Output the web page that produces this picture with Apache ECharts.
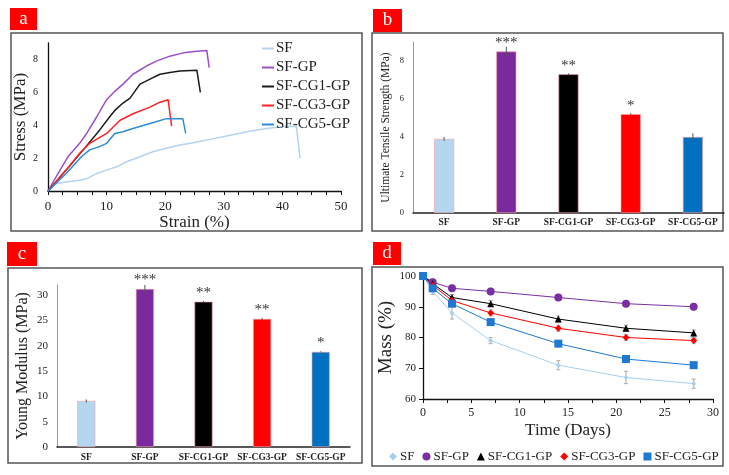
<!DOCTYPE html>
<html>
<head>
<meta charset="utf-8" />
<title>Figure</title>
<script src="https://cdn.jsdelivr.net/npm/echarts@6/dist/echarts.min.js"></script>
<style>
  html, body { margin: 0; padding: 0; background: #fff; }
  #main { width: 729px; height: 475px; }
</style>
</head>
<body>
<div id="main"></div>
<script>
// panel a: stress-strain curves, [strain %, stress MPa]
var curveSF = [[0,0],[1.4,0.45],[3.1,0.55],[5.4,0.65],[6.6,0.75],[8.3,1.06],[10,1.27],[11.7,1.47],[13.4,1.78],[15.7,2.08],[18,2.4],[20.2,2.6],[22.5,2.8],[24.8,2.94],[27.7,3.14],[30.5,3.35],[33.9,3.6],[37.3,3.8],[40.8,3.95],[42.4,3.9],[43,2.0]];
var curveGP = [[0,0],[1.7,1.06],[3.4,2.08],[5.4,2.9],[6.6,3.5],[8.3,4.5],[10,5.55],[11.4,6.06],[12.8,6.5],[14.5,7.1],[16.8,7.6],[18.5,7.9],[20.8,8.2],[23.1,8.4],[25.4,8.5],[27.1,8.55],[27.5,7.5]];
var curveCG1 = [[0,0],[3.1,1.27],[6,2.5],[8.8,3.7],[10.5,4.5],[11.4,4.9],[12.8,5.35],[14,5.65],[15.7,6.5],[17.4,6.8],[19.1,7.1],[20.8,7.2],[22.5,7.3],[25.4,7.35],[26,6.0]];
var curveCG3 = [[0,0],[3.1,1.27],[5.4,2.3],[7.1,2.9],[10,3.5],[12.3,4.3],[14.5,4.7],[17.4,5.1],[19.1,5.4],[20.5,5.55],[21.1,3.95]];
var curveCG5 = [[0,0],[3.1,1.06],[5.7,2.08],[7.1,2.5],[8.8,2.7],[10,2.9],[11.4,3.5],[12.8,3.6],[14.5,3.8],[17.4,4.1],[20.2,4.4],[22.5,4.4],[23,4.4],[23.5,3.5]];

// panels b and c: bar groups
var groups = ['SF', 'SF-GP', 'SF-CG1-GP', 'SF-CG3-GP', 'SF-CG5-GP'];
var utsValues = [3.9, 8.5, 7.3, 5.2, 4.0];
var utsErrors = [0.1, 0.25, 0.05, 0.05, 0.2];
var utsStars = ['', '***', '**', '*', ''];
var modulusValues = [9.1, 31.2, 28.7, 25.3, 18.8];
var modulusErrors = [0.3, 0.8, 0.15, 0.2, 0.1];
var modulusStars = ['', '***', '**', '**', '*'];

// panel d: degradation
var days = [0, 1, 3, 7, 14, 21, 28];
var massSF = [100, 95, 88, 79, 71, 67, 65];
var massGP = [100, 98, 96, 95, 93, 91, 90];
var massCG1 = [100, 97.5, 93, 91, 86, 83, 81.5];
var massCG3 = [100, 97, 92, 88, 83, 80, 79];
var massCG5 = [100, 96, 91, 85, 78, 73, 71];
var massErrSF = [0, 1, 2, 1, 1.5, 2, 1.5];
var massErrOther = [0, 1, 1, 1, 1, 1, 1];

var barColors = ['#b4d6ef', '#7b2a9e', '#000000', '#ff0000', '#0070c0'];
var serif = '"Liberation Serif", "DejaVu Serif", serif';

function pairs(xs, ys) {
	return xs.map(function (x, i) { return [x, ys[i]]; });
}

function errorSeries(xi, yi, xs, ys, errs, color, cap) {
	return {
		type: 'custom',
		xAxisIndex: xi,
		yAxisIndex: yi,
		silent: true,
		z: 5,
		data: xs.map(function (x, i) { return [x, ys[i], errs[i]]; }),
		encode: { x: 0, y: 1 },
		renderItem: function (params, api) {
			var top = api.coord([api.value(0), api.value(1) + api.value(2)]);
			var bot = api.coord([api.value(0), api.value(1) - api.value(2)]);
			var st = { stroke: color, lineWidth: 1 };
			var kids = [{ type: 'line', shape: { x1: top[0], y1: top[1], x2: bot[0], y2: bot[1] }, style: st }];
			if (cap) {
				kids.push({ type: 'line', shape: { x1: top[0] - cap, y1: top[1], x2: top[0] + cap, y2: top[1] }, style: st });
				kids.push({ type: 'line', shape: { x1: bot[0] - cap, y1: bot[1], x2: bot[0] + cap, y2: bot[1] }, style: st });
			}
			return { type: 'group', children: kids };
		}
	};
}

function curve(name, data, color) {
	return {
		name: name, type: 'line', xAxisIndex: 0, yAxisIndex: 0,
		data: data, symbol: 'none', smooth: false,
		lineStyle: { color: color, width: 1.5 }, itemStyle: { color: color }
	};
}

function massLine(name, ys, color, symbol, size) {
	return {
		name: name, type: 'line', xAxisIndex: 3, yAxisIndex: 3,
		data: pairs(days, ys), symbol: symbol, symbolSize: size,
		lineStyle: { color: color, width: 1 }, itemStyle: { color: color }, z: 6
	};
}

function bars(xi, yi, values, stars, width) {
	return {
		type: 'bar', xAxisIndex: xi, yAxisIndex: yi, barWidth: width,
		data: values.map(function (v, i) {
			return { value: v, itemStyle: { color: barColors[i], borderColor: '#f2a0a8', borderWidth: 0.6 } };
		}),
		label: {
			show: true, position: 'top', distance: 1,
			fontFamily: serif, fontSize: 15, color: '#333',
			formatter: function (p) { return stars[p.dataIndex]; }
		}
	};
}

function frame(x, y, w, h) {
	return { type: 'rect', shape: { x: x, y: y, width: w, height: h }, style: { fill: 'none', stroke: '#555', lineWidth: 1.5 }, silent: true };
}

function tag(x, y, w, h, letter) {
	return {
		type: 'group', children: [
			{ type: 'rect', shape: { x: x, y: y, width: w, height: h }, style: { fill: '#ff0000' } },
			{ type: 'text', x: x + w / 2, y: y + h / 2, style: { text: letter, fill: '#fff', font: '19px ' + serif, align: 'center', verticalAlign: 'middle' } }
		]
	};
}

var axisTxt = { fontFamily: serif, color: '#222' };

var chart = echarts.init(document.getElementById('main'), null, { renderer: 'canvas' });
var option = {
	animation: false,
	backgroundColor: '#fff',
	graphic: [
		frame(11, 33, 351, 198), frame(372, 33, 351, 198),
		frame(8, 268, 354, 195), frame(372, 267, 351, 199),
		tag(10, 8, 27, 22, 'a'), tag(373, 9, 29, 23, 'b'),
		tag(7, 242, 30, 24, 'c'), tag(373, 242, 28, 23, 'd')
	],
	grid: [
		{ left: 48, right: 388, top: 43, bottom: 284 },
		{ left: 413, right: 5, top: 42, bottom: 262 },
		{ left: 57, right: 379, top: 285, bottom: 28 },
		{ left: 423, right: 16, top: 276, bottom: 76 }
	],
	legend: [
		{
			orient: 'vertical', left: 257, top: 36, itemGap: 4,
			itemWidth: 12, itemHeight: 2,
			textStyle: { fontFamily: serif, fontSize: 15, color: '#222', lineHeight: 15, padding: [0, 0, 0, -3] },
			data: [
				{ name: 'SF', icon: 'rect', itemStyle: { color: '#b4d3ee' } },
				{ name: 'SF-GP', icon: 'rect', itemStyle: { color: '#9b4fc7' } },
				{ name: 'SF-CG1-GP', icon: 'rect', itemStyle: { color: '#1a1a1a' } },
				{ name: 'SF-CG3-GP', icon: 'rect', itemStyle: { color: '#ff2020' } },
				{ name: 'SF-CG5-GP', icon: 'rect', itemStyle: { color: '#2e8ad8' } }
			]
		},
		{
			orient: 'horizontal', left: 384, top: 445, itemGap: 8,
			itemWidth: 8, itemHeight: 8,
			textStyle: { fontFamily: serif, fontSize: 13, color: '#222', padding: [0, 0, 0, -2] },
			data: [
				{ name: 'SF', icon: 'diamond', itemStyle: { color: '#a9cfee' } },
				{ name: 'SF-GP', icon: 'circle', itemStyle: { color: '#7a2ea3' } },
				{ name: 'SF-CG1-GP', icon: 'triangle', itemStyle: { color: '#000' } },
				{ name: 'SF-CG3-GP', icon: 'diamond', itemStyle: { color: '#ff0000' } },
				{ name: 'SF-CG5-GP', icon: 'rect', itemStyle: { color: '#1f78d1' } }
			]
		}
	],
	xAxis: [
		{
			gridIndex: 0, type: 'value', min: 0, max: 50, interval: 10,
			axisLine: { lineStyle: { color: '#111', width: 1.3 } },
			axisTick: { show: true, length: 4, lineStyle: { color: '#111' } },
			minorTick: { show: true, splitNumber: 4, length: 4, lineStyle: { color: '#111' } },
			splitLine: { show: false },
			axisLabel: Object.assign({ fontSize: 13, margin: 9 }, axisTxt),
			name: 'Strain (%)', nameLocation: 'middle', nameGap: 21,
			nameTextStyle: { fontFamily: serif, fontSize: 17, color: '#222' }
		},
		{
			gridIndex: 1, type: 'category', data: groups,
			axisLine: { lineStyle: { color: '#222', width: 1.5 } },
			axisTick: { show: false },
			axisLabel: Object.assign({ fontSize: 9.5, margin: 5, interval: 0, fontWeight: 'bold' }, axisTxt)
		},
		{
			gridIndex: 2, type: 'category', data: groups,
			axisLine: { lineStyle: { color: '#222', width: 1.5 } },
			axisTick: { show: false },
			axisLabel: Object.assign({ fontSize: 9.5, margin: 6, interval: 0, fontWeight: 'bold' }, axisTxt)
		},
		{
			gridIndex: 3, type: 'value', min: 0, max: 30, interval: 5,
			axisLine: { lineStyle: { color: '#111', width: 1.3 } },
			axisTick: { show: true, length: 4, lineStyle: { color: '#111' } },
			minorTick: { show: true, splitNumber: 2, length: 4, lineStyle: { color: '#111' } },
			splitLine: { show: false },
			axisLabel: Object.assign({ fontSize: 12, margin: 8 }, axisTxt),
			name: 'Time (Days)', nameLocation: 'middle', nameGap: 23,
			nameTextStyle: { fontFamily: serif, fontSize: 17, color: '#222' }
		}
	],
	yAxis: [
		{
			gridIndex: 0, type: 'value', min: 0, max: 9, interval: 2,
			axisLine: { show: true, lineStyle: { color: '#111', width: 1.3 } },
			axisTick: { show: false },
			splitLine: { show: false },
			axisLabel: Object.assign({ fontSize: 10, margin: 10, showMaxLabel: false }, axisTxt),
			name: 'Stress (MPa)', nameLocation: 'middle', nameGap: 16,
			nameTextStyle: { fontFamily: serif, fontSize: 17, color: '#222' }
		},
		{
			gridIndex: 1, type: 'value', min: 0, max: 9, interval: 2,
			axisLine: { show: true, lineStyle: { color: '#999', width: 1 } },
			axisTick: { show: false },
			splitLine: { show: false },
			axisLabel: Object.assign({ fontSize: 8.5, margin: 9, showMaxLabel: false }, axisTxt),
			name: 'Ultimate Tensile Strength (MPa)', nameLocation: 'middle', nameGap: 21,
			nameTextStyle: { fontFamily: serif, fontSize: 11.5, color: '#222' }
		},
		{
			gridIndex: 2, type: 'value', min: 0, max: 32, interval: 5,
			axisLine: { show: true, lineStyle: { color: '#999', width: 1 } },
			axisTick: { show: false },
			splitLine: { show: false },
			axisLabel: Object.assign({ fontSize: 11, margin: 9, showMaxLabel: false }, axisTxt),
			name: 'Young Modulus (MPa)', nameLocation: 'middle', nameGap: 26,
			nameTextStyle: { fontFamily: serif, fontSize: 16, color: '#222' }
		},
		{
			gridIndex: 3, type: 'value', min: 60, max: 100, interval: 10,
			axisLine: { show: true, lineStyle: { color: '#111', width: 1.3 } },
			axisTick: { show: true, length: 4, lineStyle: { color: '#111' } },
			splitLine: { show: false },
			axisLabel: Object.assign({ fontSize: 11, margin: 7 }, axisTxt),
			name: 'Mass (%)', nameLocation: 'middle', nameGap: 24,
			nameTextStyle: { fontFamily: serif, fontSize: 19, color: '#222' }
		}
	],
	series: [
		curve('SF', curveSF, '#b4d3ee'),
		curve('SF-GP', curveGP, '#9b4fc7'),
		curve('SF-CG1-GP', curveCG1, '#1a1a1a'),
		curve('SF-CG3-GP', curveCG3, '#ff2020'),
		curve('SF-CG5-GP', curveCG5, '#2e8ad8'),
		bars(1, 1, utsValues, utsStars, 20),
		errorSeries(1, 1, [0, 1, 2, 3, 4], utsValues, utsErrors, '#555', 0),
		bars(2, 2, modulusValues, modulusStars, 18),
		errorSeries(2, 2, [0, 1, 2, 3, 4], modulusValues, modulusErrors, '#555', 0),
		errorSeries(3, 3, days, massSF, massErrSF, '#aaa', 2),
		errorSeries(3, 3, days, massGP, massErrOther, '#aaa', 2),
		errorSeries(3, 3, days, massCG1, massErrOther, '#aaa', 2),
		errorSeries(3, 3, days, massCG3, massErrOther, '#aaa', 2),
		errorSeries(3, 3, days, massCG5, massErrOther, '#aaa', 2),
		massLine('SF', massSF, '#a9cfee', 'diamond', 5),
		massLine('SF-GP', massGP, '#7a2ea3', 'circle', 8),
		massLine('SF-CG1-GP', massCG1, '#000', 'triangle', 7),
		massLine('SF-CG3-GP', massCG3, '#ff0000', 'diamond', 7),
		massLine('SF-CG5-GP', massCG5, '#1f78d1', 'rect', 8)
	]
};
chart.setOption(option);
</script>
</body>
</html>
